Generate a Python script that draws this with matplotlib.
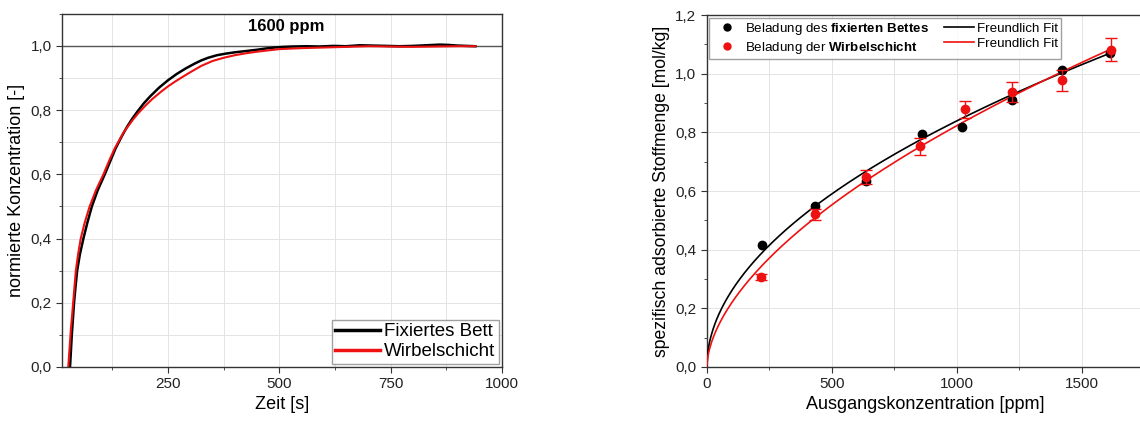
import matplotlib.pyplot as plt
import numpy as np
from matplotlib.ticker import MultipleLocator, FuncFormatter

plt.rcParams['font.family'] = ['Liberation Sans', 'DejaVu Sans']
plt.rcParams['mathtext.fontset'] = 'custom'
plt.rcParams['mathtext.rm'] = 'Liberation Sans'
plt.rcParams['mathtext.bf'] = 'Liberation Sans:bold'

# --- left: breakthrough curves at 1600 ppm ---
t_fix = [30, 32, 34, 36, 39, 42, 46, 52, 60, 69, 79, 92, 108, 120, 132, 146, 158, 170, 180, 195,
         210, 230, 250, 270, 290, 310, 325, 340, 360, 380, 400, 425, 450, 470, 490, 510, 530, 560,
         590, 620, 650, 680, 710, 740, 770, 800, 830, 860, 880, 900, 920, 940]
c_fix = [0.0, 0.05, 0.1, 0.14, 0.2, 0.245, 0.3, 0.35, 0.4, 0.45, 0.5, 0.55, 0.6, 0.64, 0.68, 0.718,
         0.748, 0.774, 0.793, 0.82, 0.843, 0.87, 0.893, 0.913, 0.93, 0.945, 0.955, 0.963, 0.971,
         0.976, 0.98, 0.984, 0.988, 0.992, 0.995, 0.997, 0.998, 0.999, 0.998, 1.0, 0.999, 1.002,
         1.001, 1.0, 0.999, 1.0, 1.002, 1.004, 1.003, 1.001, 1.0, 0.999]
t_wirbel = [26, 28, 30, 32, 34, 37, 40, 43, 48, 54, 63, 74, 88, 105, 118, 130, 150, 170, 183, 200,
            215, 235, 250, 265, 281, 300, 325, 350, 375, 400, 425, 450, 475, 500, 550, 600, 650,
            700, 750, 800, 850, 900, 940]
c_wirbel = [0.0, 0.04, 0.08, 0.12, 0.15, 0.2, 0.25, 0.3, 0.35, 0.4, 0.45, 0.5, 0.55, 0.6, 0.643,
            0.68, 0.73, 0.768, 0.79, 0.815, 0.835, 0.858, 0.874, 0.888, 0.902, 0.918, 0.938, 0.953,
            0.963, 0.971, 0.977, 0.982, 0.986, 0.99, 0.993, 0.995, 0.997, 0.999, 0.998, 0.997,
            0.998, 0.999, 0.999]

# --- right: isotherm data ---
c0_fix = [222, 432, 636, 862, 1020, 1220, 1420, 1615]
q_fix = [0.415, 0.55, 0.635, 0.795, 0.82, 0.912, 1.012, 1.07]
c0_wirbel = [217, 432, 636, 852, 1035, 1222, 1420, 1618]
q_wirbel = [0.307, 0.52, 0.648, 0.752, 0.878, 0.938, 0.977, 1.082]
err_wirbel = [0.01, 0.02, 0.025, 0.03, 0.03, 0.035, 0.035, 0.04]
# Freundlich fit parameters q = K * c^n
K_fix, n_fix = 0.0251, 0.508
K_wirbel, n_wirbel = 0.0156, 0.574

comma = FuncFormatter(lambda v, p: f'{v:.1f}'.replace('.', ','))
grid_kw = dict(color='#e4e4e4', lw=0.7)

fig = plt.figure(figsize=(11.4, 4.23), dpi=100)
ax1 = fig.add_axes([0.0544, 0.1324, 0.386, 0.835])
ax2 = fig.add_axes([0.620, 0.1324, 0.3835, 0.832])

for ax in (ax1, ax2):
    ax.tick_params(which='both', direction='out', labelsize=11, top=False, right=False,
                   colors='#333333', labelcolor='#222222')
    ax.tick_params(which='major', length=4)
    ax.tick_params(which='minor', length=2.5)
    for s in ax.spines.values():
        s.set_color('#333333')
        s.set_linewidth(1.0)
    ax.yaxis.set_major_formatter(comma)
    ax.set_axisbelow(True)

# left plot
ax1.plot(t_fix, c_fix, color='black', lw=1.8, label='Fixiertes Bett')
ax1.plot(t_wirbel, c_wirbel, color='#ee1111', lw=1.5, label='Wirbelschicht')
ax1.axhline(1.0, color='#555555', lw=1.0, zorder=1)
ax1.set_xlim(12, 1000)
ax1.set_ylim(0, 1.1)
ax1.xaxis.set_major_locator(MultipleLocator(250))
ax1.xaxis.set_minor_locator(MultipleLocator(125))
ax1.yaxis.set_major_locator(MultipleLocator(0.2))
ax1.yaxis.set_minor_locator(MultipleLocator(0.1))
ax1.grid(which='both', **grid_kw)
ax1.set_xlabel('Zeit [s]', fontsize=13, labelpad=3)
ax1.set_ylabel('normierte Konzentration [-]', fontsize=13, labelpad=4)
ax1.text(0.51, 0.985, '1600 ppm', transform=ax1.transAxes, ha='center', va='top',
         fontsize=12, fontweight='bold')
leg1 = ax1.legend(loc='lower right', fontsize=13.5, frameon=True, fancybox=False,
                  handlelength=2.4, handletextpad=0.2, borderpad=0.2, labelspacing=0.15,
                  borderaxespad=0.15)
leg1.get_frame().set_edgecolor('#888888')
for line in leg1.get_lines():
    line.set_linewidth(2.5)

# right plot
xs = np.linspace(0, 1625, 400)
ax2.plot(xs, K_fix * xs ** n_fix, color='black', lw=1.2, zorder=3)
ax2.plot(xs, K_wirbel * xs ** n_wirbel, color='#ee1111', lw=1.2, zorder=3)
ax2.plot(c0_fix, q_fix, 'o', color='black', ms=6, zorder=4)
ax2.errorbar(c0_wirbel, q_wirbel, yerr=err_wirbel, fmt='o', color='#ee1111', ms=6,
             elinewidth=1.0, capsize=4, capthick=1.0, zorder=5)
ax2.set_xlim(0, 1750)
ax2.set_ylim(0, 1.2)
ax2.xaxis.set_major_locator(MultipleLocator(500))
ax2.xaxis.set_minor_locator(MultipleLocator(250))
ax2.yaxis.set_major_locator(MultipleLocator(0.2))
ax2.yaxis.set_minor_locator(MultipleLocator(0.1))
ax2.grid(which='major', axis='y', **grid_kw)
ax2.grid(which='both', axis='x', **grid_kw)
ax2.set_xlabel('Ausgangskonzentration [ppm]', fontsize=13, labelpad=3)
ax2.set_ylabel('spezifisch adsorbierte Stoffmenge [mol/kg]', fontsize=12.7, labelpad=4)

h_fix = ax2.plot([], [], 'o', color='black', ms=5)[0]
h_wir = ax2.plot([], [], 'o', color='#ee1111', ms=5)[0]
h_ffit = ax2.plot([], [], color='black', lw=1.2)[0]
h_wfit = ax2.plot([], [], color='#ee1111', lw=1.2)[0]
leg2 = ax2.legend([h_fix, h_wir, h_ffit, h_wfit],
                  ['Beladung des $\\mathbf{fixierten\\ Bettes}$', 'Beladung der $\\mathbf{Wirbelschicht}$',
                   'Freundlich Fit', 'Freundlich Fit'],
                  ncol=2, loc='upper left', fontsize=9.6, frameon=True, fancybox=False,
                  handlelength=2.2, handletextpad=0.25, columnspacing=1.1, borderpad=0.25,
                  labelspacing=0.2, borderaxespad=0.2)
leg2.get_frame().set_edgecolor('#888888')

fig.savefig('out.png', dpi=100)
